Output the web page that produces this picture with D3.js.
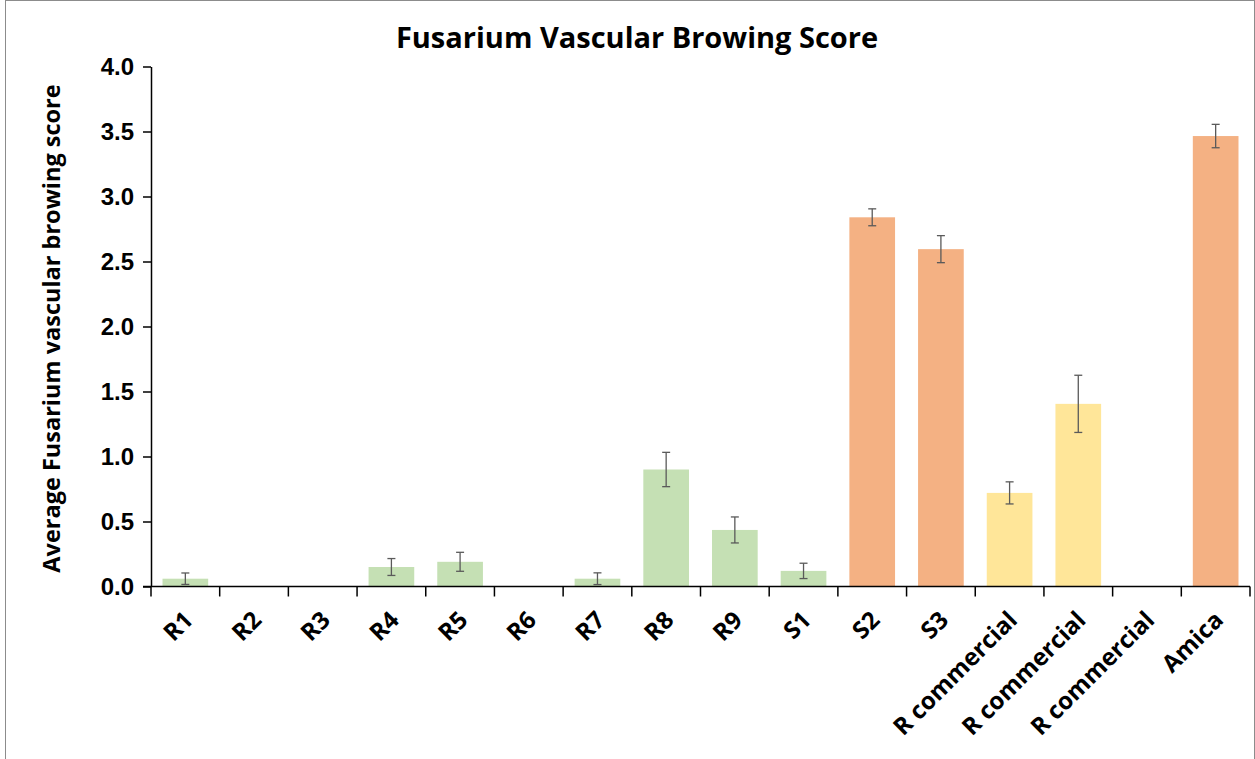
<!DOCTYPE html>
<html>
<head>
<meta charset="utf-8">
<script src="https://cdn.jsdelivr.net/npm/d3@7"></script>
<style>
  body { margin: 0; background: #fff; }
  svg { display: block; font-family: "Open Sans", "Noto Sans", sans-serif; }
</style>
</head>
<body>
<svg id="chart" width="1255" height="759"></svg>
<script>
const categories = ["R1","R2","R3","R4","R5","R6","R7","R8","R9","S1","S2","S3","R commercial","R commercial","R commercial","Amica"];
const values = [0.06, 0, 0, 0.15, 0.19, 0, 0.06, 0.90, 0.435, 0.12, 2.84, 2.595, 0.72, 1.405, 0, 3.465];
const errors = [0.044, 0, 0, 0.065, 0.073, 0, 0.045, 0.132, 0.10, 0.059, 0.065, 0.104, 0.085, 0.22, 0, 0.09];
const groups = ["R","R","R","R","R","R","R","R","R","R","S","S","C","C","C","S"];
const groupColors = { R: "#C5E0B4", S: "#F4B183", C: "#FFE699" };
const yTicks = [0, 0.5, 1.0, 1.5, 2.0, 2.5, 3.0, 3.5, 4.0];
const title = "Fusarium Vascular Browing Score";
const yTitle = "Average Fusarium vascular browing score";

const svg = d3.select("#chart");
const W = 1255, H = 759;
const m = { left: 151, right: 5, top: 66.5, bottom: 172.5 };

svg.append("rect").attr("x", 5.5).attr("y", 0.5).attr("width", W - 6).attr("height", H + 5)
  .attr("fill", "#fff").attr("stroke", "#8c8c8c").attr("stroke-width", 1);

const idx = categories.map((_, i) => i);
const x = d3.scaleBand().domain(idx).range([m.left, W - m.right]).paddingInner(0.335).paddingOuter(0.1675);
const y = d3.scaleLinear().domain([0, 4]).range([H - m.bottom, m.top]);

const data = idx.map(i => ({ i, v: values[i], e: errors[i], g: groups[i] }));

// bars
svg.append("g").selectAll("rect").data(data.filter(d => d.v > 0)).join("rect")
  .attr("x", d => x(d.i)).attr("width", x.bandwidth())
  .attr("y", d => y(d.v)).attr("height", d => y(0) - y(d.v))
  .attr("fill", d => groupColors[d.g]);

// error bars
const eg = svg.append("g").attr("stroke", "#5a5a5a").attr("stroke-width", 1.3);
data.filter(d => d.e > 0).forEach(d => {
  const cx = x(d.i) + x.bandwidth() / 2;
  eg.append("line").attr("x1", cx).attr("x2", cx).attr("y1", y(d.v + d.e)).attr("y2", y(d.v - d.e));
  eg.append("line").attr("x1", cx - 4).attr("x2", cx + 4).attr("y1", y(d.v + d.e)).attr("y2", y(d.v + d.e));
  eg.append("line").attr("x1", cx - 4).attr("x2", cx + 4).attr("y1", y(d.v - d.e)).attr("y2", y(d.v - d.e));
});

// y axis
const yAxis = d3.axisLeft(y).tickValues(yTicks).tickFormat(d3.format(".1f")).tickSize(8).tickSizeOuter(0).tickPadding(9);
const ya = svg.append("g").attr("transform", `translate(${m.left},0)`).call(yAxis);
ya.select(".domain").attr("stroke", "#000").attr("stroke-width", 1.5);
ya.selectAll(".tick line").attr("stroke", "#000").attr("stroke-width", 1.5);
ya.selectAll("text").attr("font-size", 24).attr("font-weight", 700).attr("fill", "#000");

// x axis: ticks at band boundaries
const step = x.step();
const xa = svg.append("g").attr("transform", `translate(0,${y(0)})`);
xa.append("line").attr("x1", m.left - 8).attr("x2", W - m.right).attr("stroke", "#000").attr("stroke-width", 1.5);
const bounds = d3.range(categories.length + 1).map(k => m.left + k * step);
xa.selectAll(".bt").data(bounds).join("line").attr("class", "bt")
  .attr("x1", d => d).attr("x2", d => d).attr("y1", 0).attr("y2", 10)
  .attr("stroke", "#000").attr("stroke-width", 1.5);
xa.selectAll(".lbl").data(data).join("text").attr("class", "lbl")
  .attr("transform", d => `translate(${x(d.i) + x.bandwidth() / 2 + 9},${35}) rotate(-45)`)
  .attr("text-anchor", "end").attr("font-size", 24).attr("font-weight", 700).attr("fill", "#000")
  .text(d => categories[d.i]);

// title
svg.append("text").attr("x", 637).attr("y", 48).attr("text-anchor", "middle")
  .attr("font-size", 29).attr("font-weight", 700).attr("fill", "#000").text(title);

// y title
svg.append("text").attr("transform", `translate(60,${(m.top + y(0)) / 2 + 2}) rotate(-90)`)
  .attr("text-anchor", "middle").attr("font-size", 23.5).attr("font-weight", 700).attr("fill", "#000").text(yTitle);
</script>
</body>
</html>
